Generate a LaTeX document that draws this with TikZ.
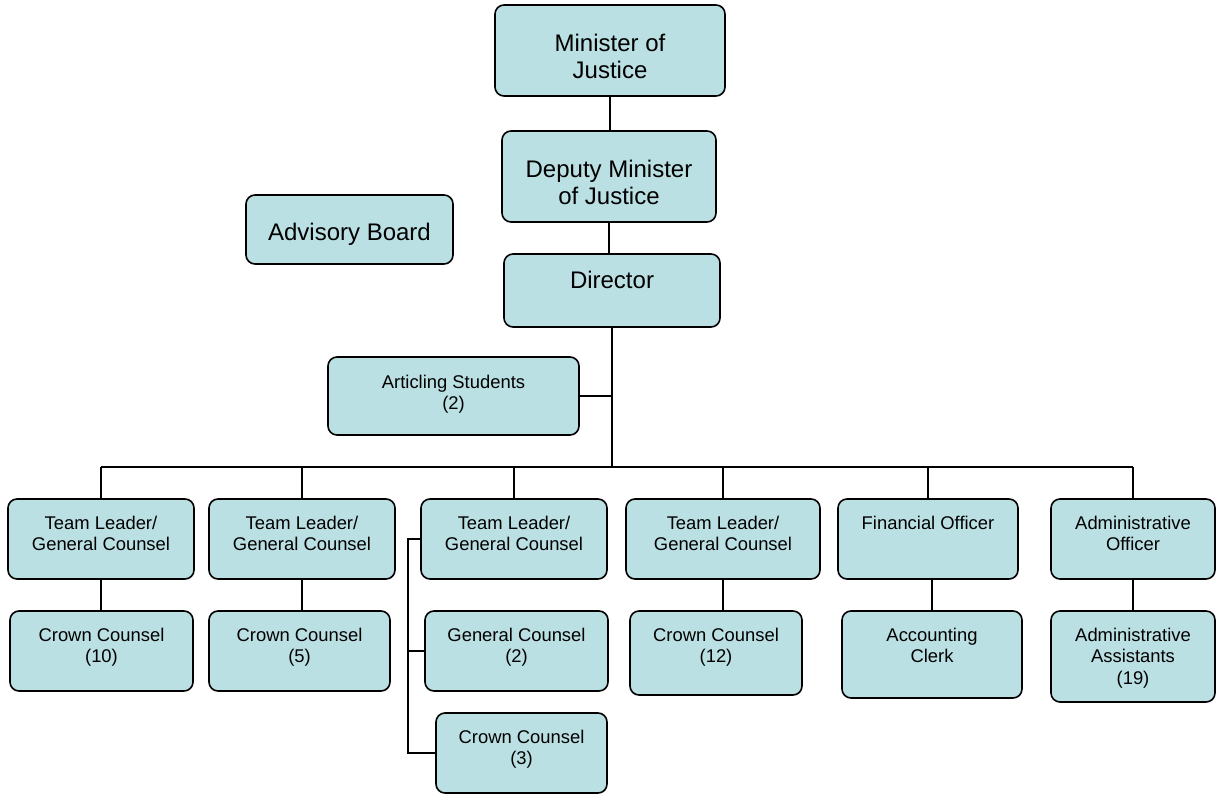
\documentclass[tikz,border=0pt]{standalone}
\usepackage{fontspec}
\setmainfont{Liberation Sans}
\definecolor{boxfill}{HTML}{BBE0E3}
\tikzset{
  box/.style={draw=black, line width=1.6pt, fill=boxfill, rounded corners=9pt, inner sep=0pt},
  conn/.style={draw=black, line width=1.6pt},
  smalltxt/.style={inner sep=0pt, align=center, anchor=north, font=\fontsize{18.4}{21.5}\selectfont},
  bigtxt/.style={inner sep=0pt, align=center, anchor=north, font=\fontsize{24}{27.5}\selectfont}
}
\begin{document}
\begin{tikzpicture}[x=1pt,y=-1pt]
\useasboundingbox (0,0) rectangle (1217,794);
% boxes
\node[box, minimum width=230pt, minimum height=91pt] (min) at (610,50.5) {};
\node[box, minimum width=214pt, minimum height=91pt] (dep) at (609,176.5) {};
\node[box, minimum width=207pt, minimum height=69pt] (adv) at (349.5,229.5) {};
\node[box, minimum width=216pt, minimum height=73pt] (dir) at (612,290.5) {};
\node[box, minimum width=251pt, minimum height=78pt] (art) at (453.5,396) {};
\node[box, minimum width=186pt, minimum height=80pt] (tl1) at (101,539) {};
\node[box, minimum width=186pt, minimum height=80pt] (tl2) at (302,539) {};
\node[box, minimum width=186pt, minimum height=80pt] (tl3) at (514,539) {};
\node[box, minimum width=194pt, minimum height=80pt] (tl4) at (723,539) {};
\node[box, minimum width=180pt, minimum height=80pt] (fo) at (928,539) {};
\node[box, minimum width=164pt, minimum height=80pt] (ao) at (1133,539) {};
\node[box, minimum width=183pt, minimum height=80pt] (cc10) at (101.5,651) {};
\node[box, minimum width=181pt, minimum height=80pt] (cc5) at (299.5,651) {};
\node[box, minimum width=183pt, minimum height=80pt] (gc2) at (516.5,651) {};
\node[box, minimum width=171pt, minimum height=80pt] (cc3) at (521.5,753) {};
\node[box, minimum width=172pt, minimum height=84pt] (cc12) at (716,653) {};
\node[box, minimum width=180pt, minimum height=87pt] (ac) at (932,654.5) {};
\node[box, minimum width=164pt, minimum height=91pt] (aa) at (1133,656.5) {};
% texts
\node[bigtxt] (tmin) at ([yshift=-27.4pt]min.north) {Minister of\strut\\Justice\strut};
\node[bigtxt] (tdep) at ([yshift=-27.4pt]dep.north) {Deputy Minister\strut\\of Justice\strut};
\node[bigtxt] (tadv) at ([yshift=-26.4pt]adv.north) {Advisory Board\strut};
\node[bigtxt] (tdir) at ([yshift=-15.4pt]dir.north) {Director\strut};
\node[smalltxt] (tart) at ([yshift=-16.6pt]art.north) {Articling Students\strut\\(2)\strut};
\node[smalltxt] (ttl1) at ([yshift=-15.6pt]tl1.north) {Team Leader/\strut\\General Counsel\strut};
\node[smalltxt] (ttl2) at ([yshift=-15.6pt]tl2.north) {Team Leader/\strut\\General Counsel\strut};
\node[smalltxt] (ttl3) at ([yshift=-15.6pt]tl3.north) {Team Leader/\strut\\General Counsel\strut};
\node[smalltxt] (ttl4) at ([yshift=-15.6pt]tl4.north) {Team Leader/\strut\\General Counsel\strut};
\node[smalltxt] (tfo) at ([yshift=-15.6pt]fo.north) {Financial Officer\strut};
\node[smalltxt] (tao) at ([yshift=-15.6pt]ao.north) {Administrative\strut\\Officer\strut};
\node[smalltxt] (tcc10) at ([yshift=-15.6pt]cc10.north) {Crown Counsel\strut\\(10)\strut};
\node[smalltxt] (tcc5) at ([yshift=-15.6pt]cc5.north) {Crown Counsel\strut\\(5)\strut};
\node[smalltxt] (tgc2) at ([yshift=-15.6pt]gc2.north) {General Counsel\strut\\(2)\strut};
\node[smalltxt] (tcc3) at ([yshift=-15.6pt]cc3.north) {Crown Counsel\strut\\(3)\strut};
\node[smalltxt] (tcc12) at ([yshift=-15.6pt]cc12.north) {Crown Counsel\strut\\(12)\strut};
\node[smalltxt] (tac) at ([yshift=-15.6pt]ac.north) {Accounting\strut\\Clerk\strut};
\node[smalltxt] (taa) at ([yshift=-15.6pt]aa.north) {Administrative\strut\\Assistants\strut\\(19)\strut};
% connectors
\coordinate (bus) at (613,467);
\coordinate (brk) at (408,539);
\draw[conn] (min.south) -- (min.south |- dep.north);
\draw[conn] (dep.south) -- (dep.south |- dir.north);
\draw[conn] (dir.south) -- (dir.south |- bus);
\draw[conn] (art.east) -- (art.east -| dir.south);
\draw[conn] (tl1.north |- bus) -- (ao.north |- bus);
\foreach \n in {tl1,tl2,tl3,tl4,fo,ao}{
  \draw[conn] (\n.north |- bus) -- (\n.north);
}
\draw[conn] (tl1.south) -- (tl1.south |- cc10.north);
\draw[conn] (tl2.south) -- (tl2.south |- cc5.north);
\draw[conn] (tl4.south) -- (tl4.south |- cc12.north);
\draw[conn] (ac.north |- fo.south) -- (ac.north);
\draw[conn] (aa.north |- ao.south) -- (aa.north);
\draw[conn] (tl3.west) -- (brk) |- (cc3.west);
\draw[conn] (gc2.west -| brk) -- (gc2.west);
\end{tikzpicture}
\end{document}
